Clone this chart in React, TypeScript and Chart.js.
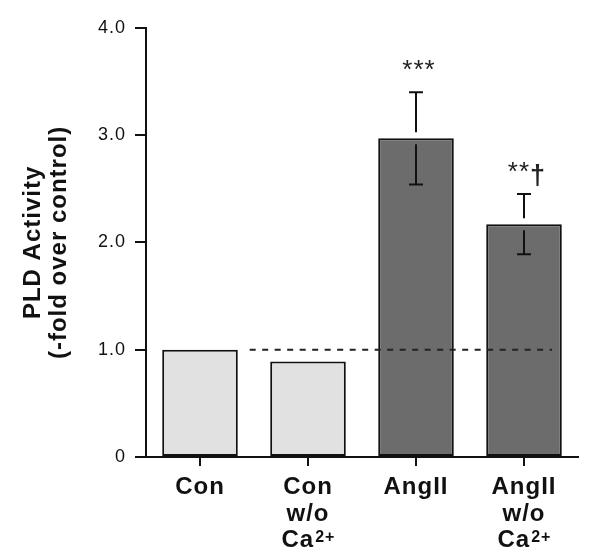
import { useEffect, useRef } from 'react';
import { Chart, registerables } from 'chart.js';

Chart.register(...registerables);

const FONT = '"Liberation Sans", Arial, Helvetica, sans-serif';

const categories = ['Con', 'Con w/o Ca2+', 'AngII', 'AngII w/o Ca2+'];
// '^' marks the start of a superscript
const categoryLines: string[][] = [['Con'], ['Con', 'w/o', 'Ca^2+'], ['AngII'], ['AngII', 'w/o', 'Ca^2+']];
const values = [1.0, 0.89, 2.97, 2.17];
const errors = [0, 0, 0.43, 0.28];
const barColors = ['#e1e1e1', '#e1e1e1', '#6c6c6c', '#6c6c6c'];
const significance = ['', '', '***', '**†'];
const yTickValues = [0, 1, 2, 3, 4];
const yTickLabels = ['0', '1.0', '2.0', '3.0', '4.0'];
const yTitle = ['PLD Activity', '(-fold over control)'];
const referenceValue = 1.0;
const referenceSpan = [0.46, 3.26]; // in category-index units

const overlay = {
  id: 'overlay',
  beforeDraw(chart: any) {
    chart.ctx.letterSpacing = '1px';
  },
  afterDatasetsDraw(chart: any) {
    const { ctx, scales } = chart;
    const x = scales.x;
    const y = scales.y;
    const x0 = x.getPixelForValue(0);
    const step = x.getPixelForValue(1) - x0;
    ctx.save();
    // dashed reference line
    ctx.strokeStyle = '#222';
    ctx.lineWidth = 2;
    ctx.setLineDash([6, 6.5]);
    const yr = y.getPixelForValue(referenceValue);
    ctx.beginPath();
    ctx.moveTo(x0 + referenceSpan[0] * step, yr);
    ctx.lineTo(x0 + referenceSpan[1] * step, yr);
    ctx.stroke();
    ctx.setLineDash([]);
    // error bars
    ctx.strokeStyle = '#111';
    ctx.lineWidth = 2;
    const cap = 7;
    const gap = 6;
    values.forEach((v, i) => {
      const e = errors[i];
      if (!e) return;
      const cx = x.getPixelForValue(i);
      const top = y.getPixelForValue(v + e);
      const bot = y.getPixelForValue(v - e);
      const bar = y.getPixelForValue(v);
      ctx.beginPath();
      ctx.moveTo(cx - cap, top);
      ctx.lineTo(cx + cap, top);
      ctx.moveTo(cx, top);
      ctx.lineTo(cx, bar - gap);
      ctx.moveTo(cx, bar + gap);
      ctx.lineTo(cx, bot);
      ctx.moveTo(cx - cap, bot);
      ctx.lineTo(cx + cap, bot);
      ctx.stroke();
    });
    // significance marks
    ctx.fillStyle = '#222';
    ctx.textAlign = 'left';
    ctx.textBaseline = 'alphabetic';
    const starFont = `26px ${FONT}`;
    const daggerFont = `bold 27px ${FONT}`;
    significance.forEach((s, i) => {
      if (!s) return;
      const cx = x.getPixelForValue(i);
      const top = y.getPixelForValue(values[i] + errors[i]);
      let w = 0;
      for (const ch of s) {
        ctx.font = ch === '*' ? starFont : daggerFont;
        w += ctx.measureText(ch).width;
      }
      let px = cx + 3 - w / 2;
      for (const ch of s) {
        ctx.font = ch === '*' ? starFont : daggerFont;
        const lift = ch === '*' ? 14 : 10;
        ctx.fillText(ch, px, top - lift);
        px += ctx.measureText(ch).width;
      }
    });
    ctx.restore();
  },
  afterDraw(chart: any) {
    const { ctx, scales } = chart;
    const x = scales.x;
    ctx.save();
    ctx.letterSpacing = '1px';
    ctx.fillStyle = '#111';
    ctx.textAlign = 'left';
    ctx.textBaseline = 'alphabetic';
    const baseFont = `bold 24px ${FONT}`;
    const supFont = `bold 16px ${FONT}`;
    const lineH = 26.5;
    categoryLines.forEach((lines, i) => {
      const cx = x.getPixelForValue(i);
      lines.forEach((line, k) => {
        const [base, sup] = line.split('^');
        ctx.font = baseFont;
        const wb = ctx.measureText(base).width;
        ctx.font = supFont;
        const ws = sup ? ctx.measureText(sup).width : 0;
        const left = cx - (wb + ws) / 2;
        const by = x.top + 37 + k * lineH;
        ctx.font = baseFont;
        ctx.fillText(base, left, by);
        if (sup) {
          ctx.font = supFont;
          ctx.fillText(sup, left + wb + 1, by - 5);
        }
      });
    });
    ctx.restore();
  },
};

export default function App() {
  const ref = useRef<HTMLCanvasElement>(null);
  useEffect(() => {
    const chart = new Chart(ref.current as HTMLCanvasElement, {
      type: 'bar',
      data: {
        labels: categories,
        datasets: [
          {
            data: values,
            backgroundColor: barColors,
            borderColor: '#111',
            borderWidth: 2,
            borderSkipped: false,
            barPercentage: 0.7,
            categoryPercentage: 1,
          },
        ],
      },
      options: {
        responsive: true,
        maintainAspectRatio: false,
        animation: false,
        layout: { padding: { top: 16.5, right: 14, left: 0, bottom: 0 } },
        plugins: { legend: { display: false }, tooltip: { enabled: false } },
        scales: {
          x: {
            grid: { offset: false, drawOnChartArea: false, tickLength: 9, color: '#111', lineWidth: 2 },
            border: { color: '#111', width: 2 },
            ticks: { display: false, autoSkip: false },
            afterFit: (s: any) => {
              s.height = 99;
            },
          },
          y: {
            min: 0,
            max: 4,
            afterBuildTicks: (s: any) => {
              s.ticks = yTickValues.map((v) => ({ value: v }));
            },
            ticks: {
              color: '#111',
              font: { family: FONT, size: 18 },
              padding: 9,
              callback: (v: any) => yTickLabels[yTickValues.indexOf(Number(v))],
            },
            grid: { drawOnChartArea: false, tickLength: 11, color: '#111', lineWidth: 2 },
            border: { color: '#111', width: 2 },
            title: {
              display: true,
              text: yTitle,
              color: '#111',
              font: { family: FONT, size: 24, weight: 'bold', lineHeight: 1.1 },
              padding: { top: 12, bottom: 0 },
            },
            afterFit: (s: any) => {
              s.width = 138;
            },
          },
        },
      },
      plugins: [overlay],
    });
    return () => chart.destroy();
  }, []);
  return (
    <div style={{ position: 'absolute', left: 8, top: 8, width: 584, height: 548 }}>
      <canvas ref={ref} />
    </div>
  );
}
